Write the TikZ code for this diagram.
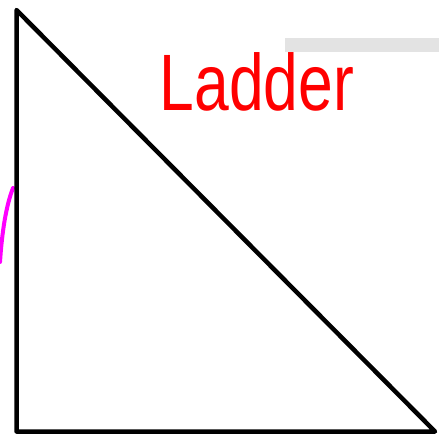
\documentclass[tikz,border=0pt]{standalone}
\usepackage{fontspec}
\setmainfont{Liberation Sans}
\definecolor{barGray}{HTML}{E3E3E3}
\definecolor{inkRed}{HTML}{FF0000}
\definecolor{inkPink}{HTML}{FF00FF}
\begin{document}
\begin{tikzpicture}[
		x=1pt,
		y=-1pt,
		edge/.style={line width=4.5pt, black, line join=round},
		label/.style={inkRed, font=\fontsize{80}{80}\selectfont, xscale=0.78, anchor=base}
	]
	\useasboundingbox (0,0) rectangle (439,434);

	% ---- barra cinzenta ---------------------------------------------
	\fill[barGray] (285,38) rectangle (439,52);

	% ---- traço magenta ----------------------------------------------
	\draw[inkPink, line width=4pt, line cap=round] (13,188) .. controls (6,206) and (2,232) .. (0,262);

	% ---- triângulo (escada) -----------------------------------------
	\coordinate (top) at (16.5,10);
	\coordinate (foot) at (16.5,431.5);
	\coordinate (base) at (435,431.5);
	\draw[edge] (top) -- (foot) -- (base) -- cycle;

	% ---- rótulo -------------------------------------------------------
	\node[label] (ladder) at (257,110) {Ladder};
\end{tikzpicture}
\end{document}
